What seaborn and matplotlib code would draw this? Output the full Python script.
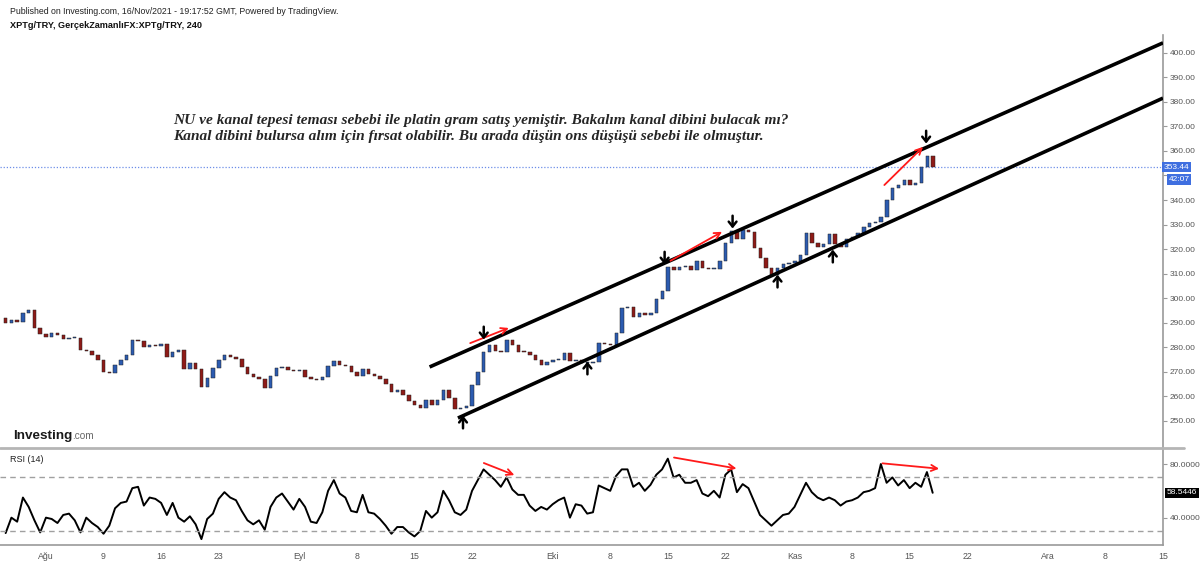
import numpy as np
import seaborn as sns
import matplotlib.pyplot as plt
from matplotlib.lines import Line2D
from matplotlib.transforms import blended_transform_factory

# 12-hour closes of XPTg/TRY (first bar ~27 Jul 2021)
closes = [290, 291, 290.3, 294, 295, 288, 285.5, 284.2, 286, 285,
          283.5, 283.8, 284, 279, 278.5, 276.8, 275, 270, 269.5, 273,
          275, 277, 283, 282.5, 280, 281, 280.5, 281.5, 276, 278,
          278.9, 271, 273.5, 271, 264, 267.5, 271.5, 275, 277, 276,
          275.2, 272, 269, 268, 267, 263.6, 268.5, 271.5, 272, 270.8,
          270.5, 270.8, 268, 267, 266.5, 268, 272.5, 274.5, 273, 272.5,
          270, 268.5, 271, 269, 268.5, 267, 265, 262, 262.5, 260.5,
          258, 256.5, 255.3, 258.5, 256.5, 258.5, 262.6, 259.5, 255, 255.3,
          256, 264.5, 270, 278.1, 281, 278.5, 278.3, 283, 281, 278.1,
          278, 277, 275, 273, 274, 274.8, 275, 277.5, 274.5, 274.8,
          273.6, 273.8, 274, 281.7, 281.2, 281, 286, 296, 296.4, 292.5,
          294, 293.2, 293.8, 299.5, 303, 312.7, 311.5, 312.7, 313, 311.5,
          315.3, 312.2, 311.8, 311.8, 315, 322.4, 327.5, 324, 327.7, 326.8,
          320.5, 316.5, 312.3, 309.4, 312.5, 314, 314.5, 315.3, 317.5, 326.5,
          322.5, 321, 322, 326, 322, 321, 324, 325, 326.5, 329,
          330.5, 331, 333, 340, 345, 346, 348, 346, 347, 353.4, 358, 353.44]
first_open = 292.0

rsi = [28.5, 40, 37, 55, 48, 38, 29, 40, 39, 36,
       42, 43, 38, 29, 40, 36, 33, 28, 34, 47,
       51, 52, 62, 63, 49, 55, 54, 51, 42, 51,
       40, 37, 41, 35, 24, 39, 43, 54, 59, 55,
       53, 45, 38, 35, 38, 31, 48, 55, 58, 52,
       46, 54, 48, 37, 36, 44, 60, 68, 58, 55,
       45, 44, 57, 44, 43, 39, 34, 28, 33, 33,
       29, 26, 30, 45, 40, 44, 60, 53, 44, 42,
       46, 60, 68, 76, 72, 68, 63, 70, 61, 57,
       57, 49, 45, 48, 46, 50, 53, 55, 40, 50,
       49, 43, 44, 64, 62, 60, 71, 76, 76, 63,
       66, 60, 64.5, 72, 76, 84, 70, 72, 66, 66,
       68, 58, 56, 60, 55, 72, 76, 59, 65, 62,
       52, 42, 38, 34, 38, 42, 43, 48, 57, 66,
       59, 55, 53, 55, 53, 49, 52, 53, 55, 59,
       60, 62, 80, 66, 70, 64, 68, 62, 66, 63, 74, 58.5446]

axis_origin = '2021-08-02'   # trading-day axis starts on this date
first_bar_day = -3.5         # trading days before origin
bars_per_day = 2

tick_labels = ['Ağu', '9', '16', '23', 'Eyl', '8', '15', '22', 'Eki', '8',
               '15', '22', 'Kas', '8', '15', '22', 'Ara', '8', '15']
tick_dates = ['2021-08-02', '2021-08-09', '2021-08-16', '2021-08-23',
              '2021-09-01', '2021-09-08', '2021-09-15', '2021-09-22',
              '2021-10-01', '2021-10-08', '2021-10-15', '2021-10-22',
              '2021-11-01', '2021-11-08', '2021-11-15', '2021-11-22',
              '2021-12-01', '2021-12-08', '2021-12-15']
price_ticks = list(range(250, 401, 10))
hidden_price_tick = 350      # covered by the last-price badge
rsi_ticks = [40, 80]
last_price = 353.44
last_rsi = 58.5446
countdown = '42:07'

# drawings (trading day, value)
channel_upper = [(33.3, 272.0), (96.96, 404.0)]
channel_lower = [(35.76, 251.2), (96.96, 381.5)]
price_red_arrows = [((36.6, 281.3), (40.4, 288.3)),
                    ((54.0, 314.7), (58.9, 327.6)),
                    ((72.6, 345.3), (76.3, 362.4))]
rsi_red_arrows = [((37.8, 81.5), (40.9, 71.0)),
                  ((54.3, 85.2), (60.2, 76.3)),
                  ((72.4, 80.7), (77.8, 76.3))]
down_marks = [(38.0, 285.8), (53.7, 316.3), (59.6, 331.0), (76.4, 365.6)]
up_marks = [(36.2, 249.6), (47.0, 271.6), (63.5, 307.0), (68.3, 317.2)]

note = ("NU ve kanal tepesi teması sebebi ile platin gram satış yemiştir. Bakalım kanal dibini bulacak mı?\n"
        "Kanal dibini bulursa alım için fırsat olabilir. Bu arada düşün ons düşüşü sebebi ile olmuştur.")

sns.set_style('white')
plt.rcParams['font.family'] = ['Liberation Sans', 'DejaVu Sans']

closes = np.array(closes)
opens = np.r_[first_open, closes[:-1]]
x = first_bar_day + np.arange(len(closes)) / bars_per_day
tick_pos = np.busday_count(axis_origin, tick_dates)

W, H = 1200, 561
fig = plt.figure(figsize=(W / 100, H / 100), dpi=100)
ax = fig.add_axes([0, 1 - 448 / H, 1163 / W, 413 / H])
ax2 = fig.add_axes([0, 1 - 545 / H, 1163 / W, 96 / H])

grey = '#9a9a9a'
for a in (ax, ax2):
    for s in ('top', 'left', 'bottom'):
        a.spines[s].set_visible(False)
    a.spines['right'].set_color(grey)
    a.spines['right'].set_linewidth(1.2)
    a.set_xlim(-3.99, 96.96)
    a.yaxis.tick_right()
    a.tick_params(axis='y', length=3, color=grey, labelsize=6, labelcolor='#555555', pad=2)

ax.set_ylim(239.0, 407.2)
ax.set_yticks(price_ticks)
ax.set_yticklabels(['' if v == hidden_price_tick else f'{v:.2f}' for v in price_ticks])
ax.set_xticks([])

# candles
up = closes >= opens
body = np.maximum(np.abs(closes - opens), 0.35)
low = np.minimum(opens, closes)
ax.bar(x[up], body[up], bottom=low[up], width=0.3, color='#2c5bb0',
       edgecolor='#222222', linewidth=0.35, zorder=3)
ax.bar(x[~up], body[~up], bottom=low[~up], width=0.3, color='#8e1b17',
       edgecolor='#222222', linewidth=0.35, zorder=3)

ax.axhline(last_price, color='#6d8ee8', lw=0.9, ls=(0, (1, 1.5)), zorder=1)

for (x0, y0), (x1, y1) in (channel_upper, channel_lower):
    ax.plot([x0, x1], [y0, y1], color='black', lw=2.6, solid_capstyle='butt', zorder=4)

for (p0, p1) in price_red_arrows:
    ax.annotate('', xy=p1, xytext=p0,
                arrowprops=dict(arrowstyle='->', color='#ff1a1a', lw=1.3, mutation_scale=11),
                zorder=5)
mark_style = '->,head_length=0.5,head_width=0.4'
for (mx, my) in down_marks:
    ax.annotate('', xy=(mx, my - 2.6), xytext=(mx, my + 2.6),
                arrowprops=dict(arrowstyle=mark_style, color='black', lw=1.8, mutation_scale=7,
                                shrinkA=0, shrinkB=0),
                zorder=5)
for (mx, my) in up_marks:
    ax.annotate('', xy=(mx, my + 2.6), xytext=(mx, my - 2.6),
                arrowprops=dict(arrowstyle=mark_style, color='black', lw=1.8, mutation_scale=7,
                                shrinkA=0, shrinkB=0),
                zorder=5)

tr = blended_transform_factory(ax.transAxes, ax.transData)
ax.text(1.001, last_price, f'{last_price:.2f}', transform=tr, ha='left', va='center',
        fontsize=6, color='white', bbox=dict(boxstyle='square,pad=0.2', fc='#3f6fe0', ec='none'))
ax.annotate(countdown, xy=(1.0, last_price), xycoords=tr, xytext=(4, -9),
            textcoords='offset points', ha='left', va='center', fontsize=6, color='white',
            bbox=dict(boxstyle='square,pad=0.2', fc='#3f6fe0', ec='none'))

# RSI panel
sns.lineplot(x=x, y=rsi, ax=ax2, color='black', lw=1.4)
ax2.set_ylim(19.6, 91.2)
ax2.set_yticks(rsi_ticks)
ax2.set_yticklabels([f'{v:.4f}' for v in rsi_ticks])
for lvl in (70, 30):
    ax2.axhline(lvl, color='#a0a0a0', lw=1.0, ls=(0, (4, 3)))
ax2.spines['bottom'].set_visible(True)
ax2.spines['bottom'].set_color(grey)
ax2.spines['bottom'].set_linewidth(1.2)
ax2.set_xticks(tick_pos)
ax2.set_xticklabels(tick_labels)
ax2.tick_params(axis='x', length=3, color=grey, labelsize=6.3, labelcolor='#555555', pad=2)
for (p0, p1) in rsi_red_arrows:
    ax2.annotate('', xy=p1, xytext=p0,
                 arrowprops=dict(arrowstyle='->', color='#ff1a1a', lw=1.3, mutation_scale=11))
tr2 = blended_transform_factory(ax2.transAxes, ax2.transData)
ax2.text(1.003, last_rsi, f'{last_rsi:.4f}', transform=tr2, ha='left', va='center',
         fontsize=6, color='white', bbox=dict(boxstyle='square,pad=0.2', fc='black', ec='none'))

fig.add_artist(Line2D([0, 1184 / W], [1 - 448 / H] * 2, color='#b5b5b5', lw=2))

# texts
fig.text(10 / W, 1 - 11 / H, 'Published on Investing.com, 16/Nov/2021 - 19:17:52 GMT, Powered by TradingView.',
         fontsize=6.3, va='center', color='#222222')
fig.text(10 / W, 1 - 26 / H, 'XPTg/TRY, GerçekZamanlıFX:XPTg/TRY, 240',
         fontsize=6.6, va='center', weight='bold', color='#111111')
fig.text(173 / W, 1 - 113.5 / H, note, fontsize=11.1, va='top', ha='left',
         family=['Liberation Serif', 'DejaVu Serif'], style='italic', weight='bold', linespacing=1.3)
fig.text(13 / W, 1 - 439 / H, 'Investing', fontsize=9.7, weight='bold', va='baseline', color='#1a1a1a')
fig.text(72 / W, 1 - 439 / H, '.com', fontsize=7.2, va='baseline', color='#666666')
fig.text(10 / W, 1 - 460 / H, 'RSI (14)', fontsize=6.5, va='center', color='#222222')

fig.savefig('out.png', dpi=100)
